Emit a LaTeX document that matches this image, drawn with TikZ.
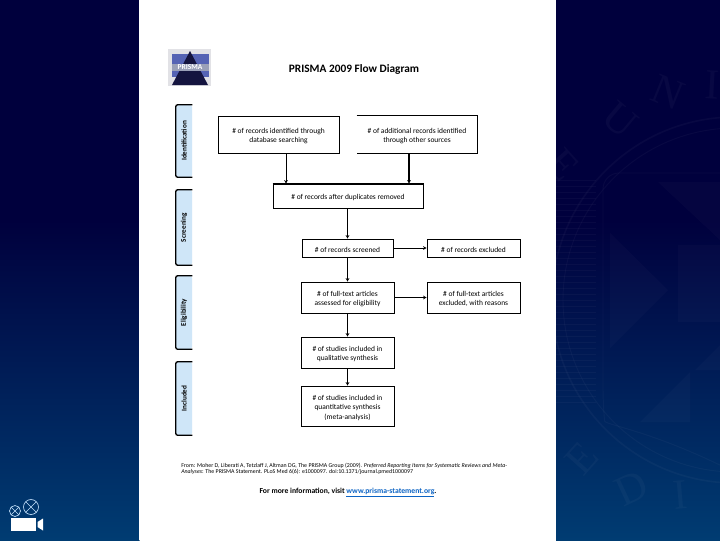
\documentclass[tikz,border=0pt]{standalone}
\usepackage{fontspec}
\setmainfont{Carlito}
\newfontfamily\sealfont{Liberation Serif}
\newcommand\tstrut{\rule{0pt}{6.3pt}}
\definecolor{topnavy}{HTML}{00003D}
\definecolor{botnavy}{HTML}{003C72}
\definecolor{tabblue}{HTML}{CFE6F8}
\definecolor{linkblue}{HTML}{0B63C4}
\definecolor{camblue}{HTML}{C4E0FA}
\definecolor{logobg}{HTML}{E2E2E6}
\definecolor{logoblue}{HTML}{5563B4}
\definecolor{logodark}{HTML}{14143F}
\definecolor{logoband}{HTML}{9AA0B8}
\tikzset{
  sz/.style 2 args={minimum width=#1*0.75pt,minimum height=#2*0.75pt},
  flowbox/.style={draw=black,line width=0.7pt,fill=white,align=center,inner sep=0pt,font=\fontsize{5.6}{7.1}\selectfont},
  openbox/.style={draw=none,fill=white,align=center,inner sep=0pt,font=\fontsize{5.6}{7.1}\selectfont},
  tabbox/.style={fill=tabblue,rounded corners=1.5pt,inner sep=0pt,font=\fontsize{5.4}{6}\selectfont\bfseries},
  tabedge/.style={draw=black,line width=1pt,rounded corners=1.5pt},
  flow/.style={draw=black,line width=0.7pt,-{Stealth[length=2.6pt,width=2.8pt]}},
  seal/.style={draw=white,draw opacity=0.03,line width=0.7pt},
  sealfill/.style={fill=white,fill opacity=0.018},
  sealtext/.style={text=white,text opacity=0.03,font=\sealfont\fontsize{32}{32}\selectfont,inner sep=0pt},
  cam/.style={draw=camblue,line width=0.5pt}
}
\usetikzlibrary{arrows.meta}
\begin{document}
\begin{tikzpicture}[x=0.75pt,y=-0.75pt]
\useasboundingbox (0,0) rectangle (720,540);
% backgrounds
\fill[topnavy] (0,0) rectangle (139.5,221);
\shade[top color=topnavy,bottom color=botnavy] (0,220) rectangle (139.5,540);
\fill[topnavy] (556,0) rectangle (720,221);
\shade[top color=topnavy,bottom color=botnavy] (556,220) rectangle (720,540);
\fill[white] (139,0) rectangle (556,540);
% seal watermark on right panel
\begin{scope}
\clip (556,0) rectangle (720,540);
\draw[seal,line width=1.2pt] (735,300) circle (183*0.75pt);
\draw[seal] (735,300) circle (172*0.75pt);
\foreach \yy in {180,186,...,402} { \draw[seal] (556,\yy) -- (596,\yy); }
\draw[seal,rounded corners=12pt] (730,173) -- (603,173) -- (603,405) .. controls (605,425) and (650,430) .. (730,470);
\fill[sealfill] (610,233) -- (668,290) -- (610,348) -- cycle;
\fill[sealfill] (658,182) -- (720,182) -- (720,240) -- cycle;
\fill[sealfill] (640,422) -- (690,372) -- (690,422) -- cycle;
\fill[sealfill] (678,245) rectangle (720,322);
\fill[sealfill] (695,370) -- (720,345) -- (720,370) -- cycle;
\node[sealtext,rotate=-48] (s1) at (563,165) {E};
\node[sealtext,rotate=-40] (s2) at (620,120) {U};
\node[sealtext,rotate=-22] (s3) at (668,92) {N};
\node[sealtext,rotate=-3] (s4) at (712,85) {I};
\node[sealtext,rotate=48] (s5) at (582,458) {E};
\node[sealtext,rotate=25] (s6) at (632,488) {D};
\node[sealtext,rotate=5] (s7) at (680,495) {I};
\end{scope}
% camera icon
\draw[cam] (15,511) circle (5.5*0.75pt);
\draw[cam] (11.2,507.2) -- (18.8,514.8) (11.2,514.8) -- (18.8,507.2);
\draw[cam] (31,507) circle (7.5*0.75pt);
\draw[cam] (25.8,501.8) -- (36.2,512.2) (25.8,512.2) -- (36.2,501.8);
\fill[white] (11,518) rectangle (36,531);
\fill[white] (37.5,522) -- (43,518.5) -- (43,530.5) -- (37.5,527) -- cycle;
% logo
\fill[logobg] (168,49) rectangle (211,86);
\fill[logoblue] (172,54) rectangle (209,77);
\fill[logodark] (190,51) -- (208,85) -- (172,85) -- cycle;
\fill[logoband] (172,64) rectangle (209,71);
\node[inner sep=0pt,text=white,font=\fontsize{5.6}{6}\selectfont\bfseries] (logotext) at (190,67.5) {PRISMA};
% title
\node[inner sep=0pt,font=\fontsize{8.5}{9}\selectfont\bfseries] (title) at (354,69) {PRISMA 2009 Flow Diagram};
% side tabs
\node[tabbox,sz={16}{72}] (t1) at (184,141) {\rotatebox{90}{Identification}};
\node[tabbox,sz={16}{75}] (t2) at (184,227.5) {\rotatebox{90}{Screening}};
\node[tabbox,sz={16}{73}] (t3) at (184,312.5) {\rotatebox{90}{Eligibility}};
\node[tabbox,sz={16}{73}] (t4) at (184,398.5) {\rotatebox{90}{Included}};
\foreach \t in {t1,t2,t3,t4} {
  \draw[tabedge] (\t.north east) -- (\t.north west) -- (\t.south west) -- (\t.south east);
}
% boxes
\node[flowbox,sz={121}{37}] (a) at (278.5,134.5) {\tstrut\# of records identified through\\database searching};
\node[openbox,sz={120}{37}] (b) at (417,134.5) {\tstrut\# of additional records identified\\through other sources};
\draw[draw=black,line width=0.7pt] (b.north west) -- (b.north east) -- (b.south east) -- (b.south west);
\node[flowbox,sz={150}{24}] (c) at (348,196) {\tstrut\# of records after duplicates removed};
\draw[draw=black,line width=1.2pt] (c.north west) -- (c.north east) -- (c.south east);
\node[flowbox,sz={91}{18}] (d) at (347.5,248) {\tstrut\# of records screened};
\node[flowbox,sz={93}{18}] (e) at (473.5,248) {\tstrut\# of records excluded};
\node[flowbox,sz={93}{31}] (f) at (347.5,297.5) {\tstrut\# of full-text articles\\assessed for eligibility};
\node[flowbox,sz={93}{31}] (g) at (473.5,297.5) {\tstrut\# of full-text articles\\excluded, with reasons};
\node[flowbox,sz={93}{31}] (h) at (347.5,352.5) {\tstrut\# of studies included in\\qualitative synthesis};
\node[flowbox,sz={93}{40}] (i) at (347.5,406) {\tstrut\# of studies included in\\quantitative synthesis\\(meta-analysis)};
% connectors
\coordinate (pa) at (286,170);
\coordinate (pb) at (409,170);
\draw[flow] (pa |- a.south) -- (pa |- c.north);
\draw[flow,line width=1.2pt] (pb |- b.south) -- (pb |- c.north);
\draw[flow] (c.south -| d.north) -- (d.north);
\draw[flow] (d.east) -- (e.west);
\draw[flow] (d.south) -- (f.north);
\draw[flow] (f.east) -- (g.west);
\draw[flow] (f.south) -- (h.north);
\draw[flow] (h.south) -- (i.north);
% footer
\node[anchor=north west,inner sep=0pt,align=left,font=\fontsize{4.42}{4.7}\selectfont] (cite) at (181,462.5)
 {From:  Moher D, Liberati A, Tetzlaff J, Altman DG, The PRISMA Group (2009). \textit{Preferred Reporting Items for Systematic Reviews and Meta-}\\
 \textit{Analyses}: The PRISMA Statement. PLoS Med 6(6): e1000097. doi:10.1371/journal.pmed1000097};
\node[inner sep=0pt,font=\fontsize{5.75}{6}\selectfont\bfseries] (more) at (348,492.5)
 {For more information, visit \textcolor{linkblue}{\underline{www.prisma-statement.org}}.};
\end{tikzpicture}
\end{document}
